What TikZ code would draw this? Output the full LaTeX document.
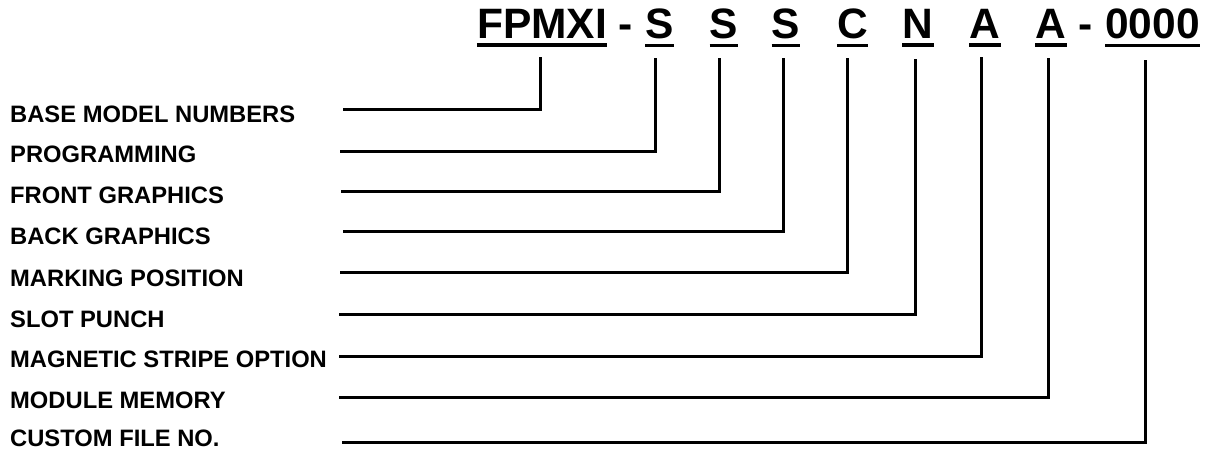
\documentclass[tikz,border=0pt]{standalone}
\usepackage{fontspec}
\setmainfont{Liberation Sans}
\begin{document}
\begin{tikzpicture}[x=1pt,y=-1pt,
  code/.style={font=\fontsize{42.5}{50}\selectfont\bfseries, inner sep=0pt, anchor=base},
  lab/.style={font=\fontsize{23.75}{28}\selectfont\bfseries, inner sep=0pt, anchor=base west},
  conn/.style={line width=3pt},
  uline/.style={line width=3.5pt}]
\useasboundingbox (0,0) rectangle (1207,450);
% header code
\node[code] (fp) at (542,38) {FPMXI};
\node[code] (d1) at (626,38) {-};
\node[code] (s1) at (659.5,38) {S};
\node[code] (s2) at (724,38) {S};
\node[code] (s3) at (786,38) {S};
\node[code] (cc) at (852.5,38) {C};
\node[code] (nn) at (918,38) {N};
\node[code] (a1) at (985,38) {A};
\node[code] (a2) at (1051,38) {A};
\node[code] (d2) at (1086,38) {-};
\node[code] (zz) at (1152.5,38) {0000};
\foreach \n in {fp,s1,s2,s3,cc,nn,a1,a2,zz}
  \draw[uline] ([yshift=-7pt]\n.south west) -- ([yshift=-7pt]\n.south east);
% labels
\node[lab] (L1) at (10,122) {BASE MODEL NUMBERS};
\node[lab] (L2) at (10,162) {PROGRAMMING};
\node[lab] (L3) at (10,203) {FRONT GRAPHICS};
\node[lab] (L4) at (10,244) {BACK GRAPHICS};
\node[lab] (L5) at (10,286) {MARKING POSITION};
\node[lab] (L6) at (10,327) {SLOT PUNCH};
\node[lab] (L7) at (10,367) {MAGNETIC STRIPE OPTION};
\node[lab] (L8) at (10,408) {MODULE MEMORY};
\node[lab] (L9) at (10,446) {CUSTOM FILE NO.};
% free ends of connectors
\coordinate (c1) at (343,109);
\coordinate (c2) at (340,151);
\coordinate (c3) at (341,191);
\coordinate (c4) at (343,231);
\coordinate (c5) at (340,272);
\coordinate (c6) at (339,314);
\coordinate (c7) at (339,356);
\coordinate (c8) at (339,397);
\coordinate (c9) at (342,442);
% connectors
\draw[conn] (c1) -| ([xshift=-2pt,yshift=-19pt]fp.south);
\draw[conn] (c2) -| ([xshift=-4.5pt,yshift=-19pt]s1.south);
\draw[conn] (c3) -| ([xshift=-5pt,yshift=-19pt]s2.south);
\draw[conn] (c4) -| ([xshift=-3pt,yshift=-19pt]s3.south);
\draw[conn] (c5) -| ([xshift=-5.5pt,yshift=-19pt]cc.south);
\draw[conn] (c6) -| ([xshift=-3pt,yshift=-21pt]nn.south);
\draw[conn] (c7) -| ([xshift=-4pt,yshift=-19pt]a1.south);
\draw[conn] (c8) -| ([xshift=-3pt,yshift=-20pt]a2.south);
\draw[conn] (c9) -| ([xshift=-7.5pt,yshift=-21pt]zz.south);
\end{tikzpicture}
\end{document}
